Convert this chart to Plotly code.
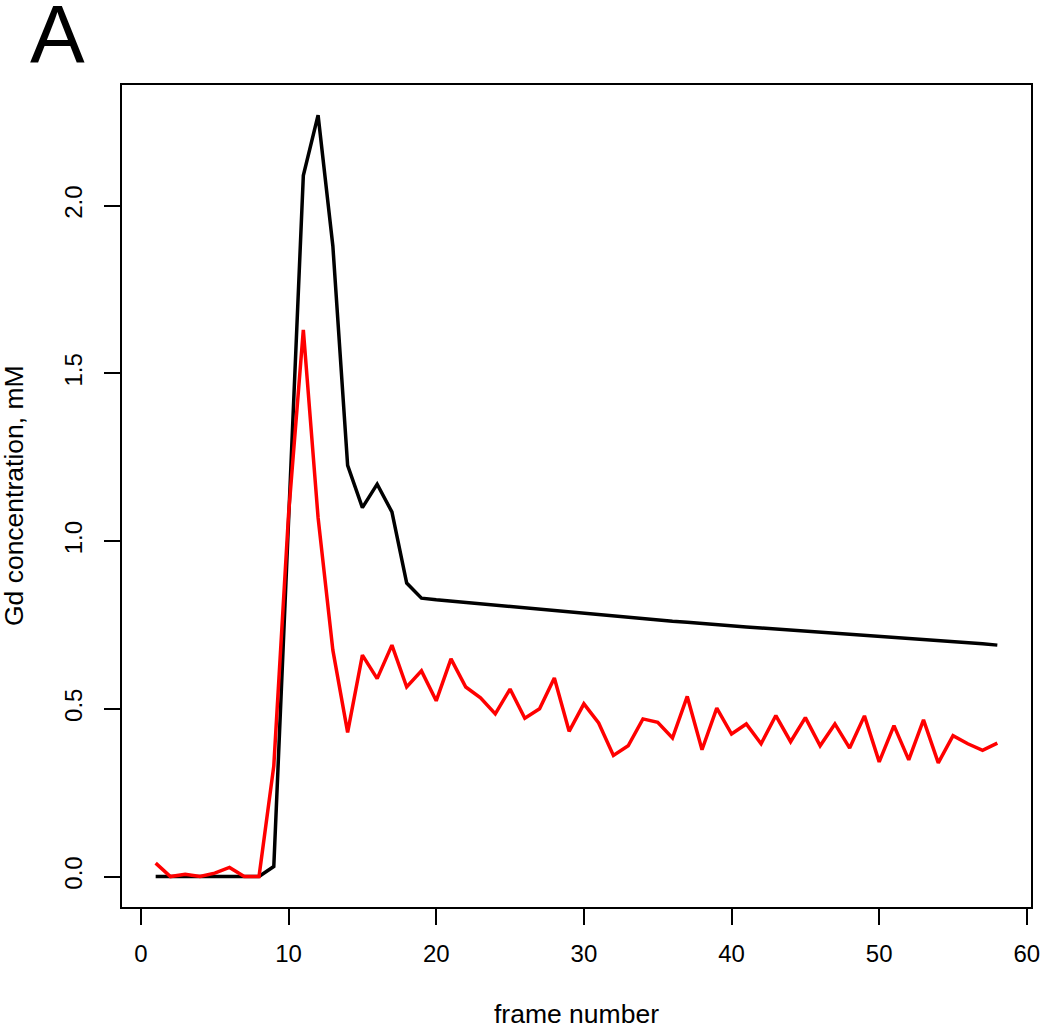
import plotly.graph_objects as go

frames = list(range(1, 59))

black_conc = [0, 0, 0, 0, 0, 0, 0, 0, 0.03, 1.08,
              2.09, 2.27, 1.88, 1.226, 1.10, 1.17, 1.087, 0.875, 0.830, 0.825,
              0.821, 0.817, 0.812, 0.808, 0.804, 0.800, 0.796, 0.792, 0.787, 0.783,
              0.779, 0.775, 0.772, 0.768, 0.765, 0.761, 0.758, 0.754, 0.751, 0.748,
              0.744, 0.741, 0.738, 0.735, 0.731, 0.728, 0.725, 0.722, 0.719, 0.716,
              0.712, 0.709, 0.706, 0.703, 0.700, 0.697, 0.694, 0.690]

red_conc = [0.04, 0, 0.007, 0, 0.01, 0.027, 0, 0, 0.33, 1.08,
            1.63, 1.07, 0.675, 0.43, 0.66, 0.59, 0.69, 0.565, 0.613, 0.524,
            0.649, 0.565, 0.533, 0.485, 0.559, 0.472, 0.500, 0.592, 0.433, 0.515,
            0.458, 0.361, 0.390, 0.470, 0.460, 0.413, 0.537, 0.378, 0.502, 0.425,
            0.455, 0.396, 0.480, 0.402, 0.474, 0.390, 0.455, 0.383, 0.479, 0.342,
            0.450, 0.348, 0.467, 0.339, 0.420, 0.396, 0.376, 0.398]

x_ticks = [0, 10, 20, 30, 40, 50, 60]
y_ticks = [0.0, 0.5, 1.0, 1.5, 2.0]
y_tick_text = ["0.0", "0.5", "1.0", "1.5", "2.0"]

FONT = "Liberation Sans, Arial, Helvetica, sans-serif"

fig = go.Figure()
fig.add_trace(go.Scatter(x=frames, y=black_conc, mode="lines",
                         line=dict(color="black", width=3.5), showlegend=False))
fig.add_trace(go.Scatter(x=frames, y=red_conc, mode="lines",
                         line=dict(color="#ff0000", width=3.5), showlegend=False))

W, H = 1050, 1030
ml, mr, mt, mb = 122, 10, 85, 123
pw, ph = W - ml - mr, H - mt - mb

def px_x(p):  # page pixel -> paper
    return (p - ml) / pw

def px_y(p):
    return (H - mb - p) / ph

fig.update_layout(
    width=W, height=H,
    margin=dict(l=ml, r=mr, t=mt, b=mb, pad=0),
    paper_bgcolor="white", plot_bgcolor="white",
    font=dict(family=FONT, size=24, color="black"),
    xaxis=dict(range=[-1.28, 60.28], tickvals=x_ticks, ticks="outside",
               ticklen=16, tickwidth=1.8, tickcolor="black",
               showline=True, linecolor="black", linewidth=2, mirror=True,
               showgrid=False, zeroline=False,
               tickfont=dict(family=FONT, size=24),
               ticklabelstandoff=8),
    yaxis=dict(range=[-0.0908, 2.36], tickvals=y_ticks, ticktext=y_tick_text,
               ticks="outside", ticklen=16, tickwidth=1.8, tickcolor="black",
               showline=True, linecolor="black", linewidth=2, mirror=True,
               showgrid=False, zeroline=False, tickangle=-90,
               tickfont=dict(family=FONT, size=24),
               ticklabelstandoff=12),
    annotations=[
        dict(text="frame number", xref="paper", yref="paper",
             x=0.5, y=px_y(1014), xanchor="center", yanchor="middle",
             showarrow=False, font=dict(family=FONT, size=26.5)),
        dict(text="Gd concentration, mM", xref="paper", yref="paper",
             x=px_x(13), y=0.5, xanchor="center", yanchor="middle",
             textangle=-90, showarrow=False, font=dict(family=FONT, size=26.5)),
        dict(text="A", xref="paper", yref="paper",
             x=px_x(57), y=px_y(33), xanchor="center", yanchor="middle",
             showarrow=False, font=dict(family=FONT, size=82)),
    ],
)

fig.write_html("out.html",
               config={"displayModeBar": False},
               post_script="document.body.style.margin='0';document.body.style.padding='0';")
